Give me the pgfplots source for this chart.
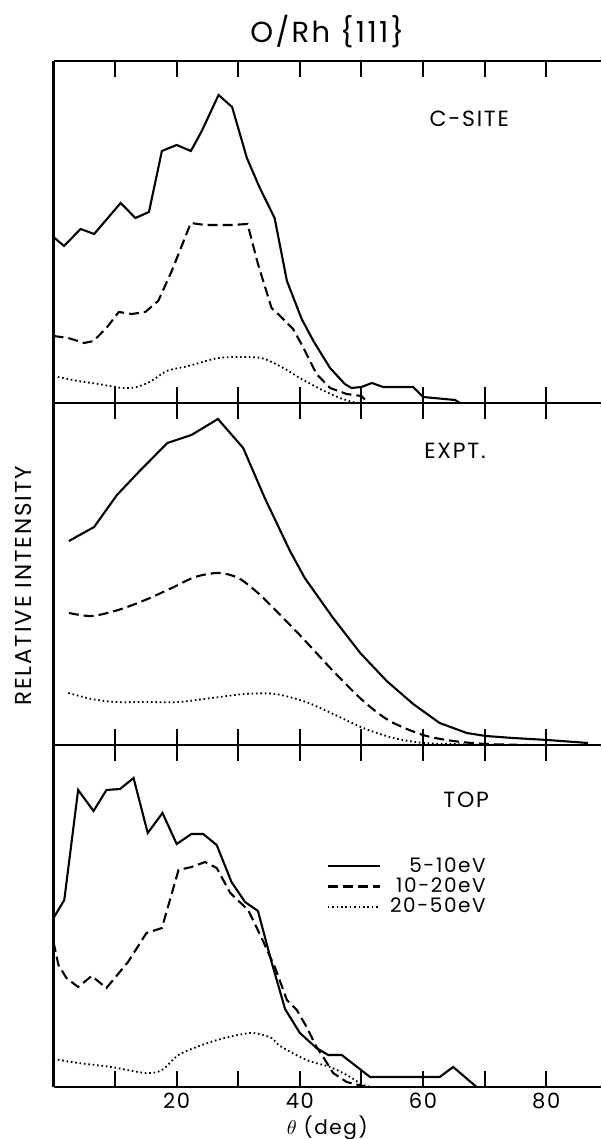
\documentclass[border=0pt]{standalone}
\usepackage{fontspec}
\setmainfont{Poppins}[LetterSpace=8]
\usepackage{pgfplots}
\pgfplotsset{compat=1.18}

\pgfplotsset{
  panel/.style={
    scale only axis, width=273.75pt, height=171pt,
    xmin=0, xmax=88.9, ymin=0, ymax=342,
    axis x line*=box, axis y line*=left,
    xtick={10,20,...,80}, ytick=\empty, xticklabels={},
    tick align=inside, major tick length=8pt,
    axis line style={line width=1.1pt},
    every tick/.style={black, line width=1pt},
  },
  lo/.style={black, line width=1.05pt},
  md/.style={black, line width=1.05pt, dash pattern=on 5pt off 2.5pt},
  hi/.style={black, line width=0.9pt, dash pattern=on 0.8pt off 1.4pt},
}

\begin{document}
\begin{tikzpicture}
% ---- C-SITE ----
\begin{axis}[panel, at={(0,342pt)}, anchor=south west,
  title={O/Rh \{111\}},
  title style={at={(axis description cs:0.5,1)}, anchor=center, yshift=8.5pt, font=\fontsize{14.5}{16}\selectfont},
]
\addplot[lo] coordinates {
 (0,166) (1.7,157) (4.4,174) (6.6,169) (10.9,200) (13.3,185) (15.5,191) (17.6,252)
 (20.0,258) (22.3,252) (24.0,271) (26.8,308) (29.0,296) (31.4,245) (33.5,215) (35.9,185)
 (37.9,122) (40.3,84) (42.2,62) (44.9,35) (47.3,19) (48.4,15) (50.0,16) (51.7,20)
 (53.5,16) (58.4,16) (60.0,6) (65.2,3) (66,0)
};
\addplot[md] coordinates {
 (0,67) (2.4,65) (5.0,60) (6.5,62) (8.6,75) (10.6,91) (12.7,89) (14.9,91) (17.0,102)
 (19.2,132) (22.3,180) (24.6,178) (28.9,178) (31.5,179) (33.2,139) (35.4,95) (36.8,87)
 (38.9,74) (40.6,55) (42.7,29) (44.9,15) (47.6,9) (50.0,7) (51.1,0)
};
\addplot[hi, smooth] coordinates {
 (0,27) (4.0,22) (7.3,19) (11.1,15) (13.5,16) (15.9,22) (18.4,32) (21.9,37) (26.8,45)
 (31.6,46) (34.3,44) (37.6,34) (40.0,25) (43.3,14) (46.5,5) (49.2,0)
};
\node[font=\fontsize{11}{12}\selectfont] at (axis cs:67.5,284) {C-SITE};
\end{axis}

% ---- EXPT ----
\begin{axis}[panel, at={(0,171pt)}, anchor=south west,
  ylabel={RELATIVE INTENSITY},
  ylabel style={at={(axis description cs:-0.0557,0.465)}, anchor=center, font=\fontsize{11.5}{13}\selectfont},
]
\addplot[lo] coordinates {
 (2.5,204) (6.6,218) (10.3,250) (14.3,276) (18.5,302) (22.4,310) (26.7,326) (30.8,297)
 (34.3,247) (38.4,194) (40.8,167) (45.4,127) (49.8,92) (54.1,64) (58.4,41) (62.7,22)
 (67.1,12) (70.2,9) (74.6,7) (80.2,5) (86.8,2)
};
\addplot[md, smooth] coordinates {
 (2.5,132) (6.2,129) (10.5,135) (14.9,145) (19.2,157) (23.0,168) (26.8,172) (30.0,167)
 (33.2,152) (36.5,132) (40.6,106) (45.4,74) (50.3,44) (54.6,24) (60.0,10) (64.9,4)
 (70.3,1) (77,0)
};
\addplot[hi, smooth] coordinates {
 (2.4,52) (6.2,46) (10.0,43) (14.9,43) (20.3,43) (25.7,47) (31.1,51) (36.0,51) (41.0,43)
 (45.4,31) (50.3,17) (55.2,7) (60.0,2) (65,1) (70,0)
};
\node[font=\fontsize{11}{12}\selectfont] at (axis cs:65.2,294) {EXPT.};
\end{axis}

% ---- TOP ----
\begin{axis}[panel, at={(0,0)}, anchor=south west,
  xticklabels={,\mbox{20},,\mbox{40},,\mbox{60},,\mbox{80}},
  xticklabel pos=lower,
  every x tick label/.append style={anchor=center, yshift=-7pt, font=\fontsize{10.5}{12}\selectfont},
  xlabel={$\theta$ (deg)},
  xlabel style={at={(axis description cs:0.5,0)}, anchor=center, yshift=-20.5pt, font=\fontsize{10}{12}\selectfont},
  legend style={at={(axis cs:44.3,231)}, anchor=north west, draw=none, fill=none,
    inner sep=0pt, row sep=0pt, column sep=4pt, font=\fontsize{10}{10}\selectfont,
    cells={anchor=east}, nodes={inner sep=0.6pt}},
  legend cell align=right,
  legend image code/.code={\draw[#1] (0pt,0pt) -- (26pt,0pt);},
]
\addplot[lo] coordinates {
 (0,169) (1.75,187) (4.0,297) (6.5,276) (8.6,297) (10.8,298) (13.0,309) (15.3,254)
 (17.7,274) (20.0,243) (22.4,253) (24.3,253) (26.5,242) (28.9,205) (31.1,185) (33.2,176)
 (35.4,125) (37.6,78) (40.0,54) (42.7,39) (44.6,32) (46.8,32) (51.4,10) (62.7,10)
 (64.9,20) (68.7,0)
};
\addlegendentry{5-10eV}
\addplot[md] coordinates {
 (0,145) (0.8,122) (2.1,109) (4.0,100) (6.2,111) (8.6,99) (12.1,125) (15.1,154) (17.6,159)
 (20.3,217) (22.4,220) (24.6,225) (26.5,219) (28.7,194) (31.6,177) (33.8,149) (36.0,119)
 (37.9,87) (39.5,77) (41.1,60) (42.7,40) (43.8,30) (45.4,14) (47.6,5) (50.8,0)
};
\addlegendentry{10-20eV}
\addplot[hi, smooth] coordinates {
 (0,28) (4.0,24) (9.4,20) (14.9,14) (17.6,17) (20.3,32) (24.1,42) (27.8,49) (32.2,54)
 (35.4,49) (36.8,41) (41.1,27) (44.9,20) (47.6,12) (50.3,2) (51.9,0)
};
\addlegendentry{20-50eV}
\node[font=\fontsize{11}{12}\selectfont] at (axis cs:67,287) {TOP};
\end{axis}
\pgfresetboundingbox
\path[use as bounding box] (-26.75pt,-26pt) rectangle (273.75pt,543.5pt);
\end{tikzpicture}
\end{document}
